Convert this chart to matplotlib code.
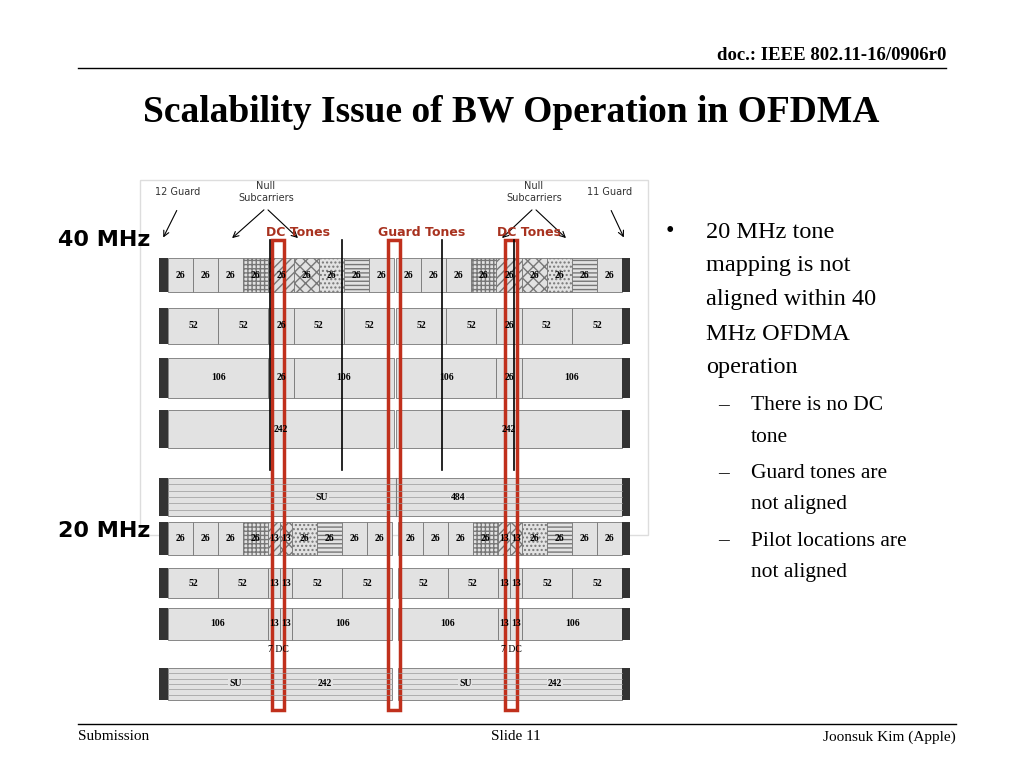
import matplotlib
matplotlib.use("Agg")
import matplotlib.pyplot as plt
from matplotlib.patches import Rectangle

# ---- data ----
header = "doc.: IEEE 802.11-16/0906r0"
title = "Scalability Issue of BW Operation in OFDMA"
rows40 = [
    [("26", 1)] * 9,
    [("52", 2), ("52", 2), ("26", 1), ("52", 2), ("52", 2)],
    [("106", 4), ("26", 1), ("106", 4)],
    [("242", 9)],
]
row40_su = [("484", 18)]
rows20 = [
    [("26", 1)] * 4 + [("13", 0.5), ("13", 0.5)] + [("26", 1)] * 4,
    [("52", 2), ("52", 2), ("13", 0.5), ("13", 0.5), ("52", 2), ("52", 2)],
    [("106", 4), ("13", 0.5), ("13", 0.5), ("106", 4)],
    [("242", 9)],
]
row_y40 = [(258, 292), (308, 344), (358, 398), (410, 448)]
row_y40_su = (478, 516)
row_y20 = [(522, 555), (568, 598), (608, 640), (668, 700)]
red_x = [278, 394, 511]
red_labels = [("DC Tones", 298), ("Guard Tones", 422), ("DC Tones", 529)]
bullets = [("•", 666, 706, 232, "20 MHz tone"), (None, 0, 706, 266, "mapping is not"),
           (None, 0, 706, 300, "aligned within 40"), (None, 0, 706, 334, "MHz OFDMA"),
           (None, 0, 706, 368, "operation")]
subs = [(406, "There is no DC"), (437, "tone"), (474, "Guard tones are"),
        (505, "not aligned"), (541, "Pilot locations are"), (572, "not aligned")]
sub_dash = [406, 474, 541]

fig = plt.figure(figsize=(10.24, 7.68), dpi=100)
ax = fig.add_axes([0, 0, 1, 1])
ax.set_xlim(0, 1024); ax.set_ylim(768, 0); ax.axis("off")
serif = "Liberation Serif"

ax.text(946, 55, header, ha="right", va="center", fontsize=13.5, fontweight="bold", family=serif)
ax.plot([78, 946], [68, 68], color="black", lw=1)
ax.text(511, 112, title, ha="center", va="center", fontsize=27, fontweight="bold", family=serif)

ax.add_patch(Rectangle((140, 180), 508, 355, fill=False, ec="#dddddd", lw=1))
for x, t in [(178, "12 Guard"), (266, "Null\nSubcarriers"), (534, "Null\nSubcarriers"), (610, "11 Guard")]:
    ax.text(x, 192, t, ha="center", va="center", fontsize=7, color="#333333")

hatches = [None, None, None, "++++", "////", "xxx", "....", "----", None]

def stripes(x, wpx, y0, y1):
    for k in range(1, 6):
        yy = y0 + k * (y1 - y0) / 6
        ax.plot([x, x + wpx], [yy, yy], color="#999", lw=0.5)

def draw_half(row, x0, x1, y0, y1, hatched=False, su=False):
    total = sum(w for _, w in row)
    x = x0
    for i, (lab, w) in enumerate(row):
        wpx = (x1 - x0) * w / total
        h = hatches[i % len(hatches)] if hatched else None
        ax.add_patch(Rectangle((x, y0), wpx, y1 - y0, fc="#e2e2e2", ec="#777777", lw=0.6,
                               hatch=h))
        if su:
            stripes(x, wpx, y0, y1)
            ax.text(x + wpx * 0.7, (y0 + y1) / 2, lab, ha="center", va="center", fontsize=7,
                    family=serif, fontweight="bold", bbox=dict(fc="#e2e2e2", ec="none", pad=0.5))
            ax.text(x + wpx * 0.3, (y0 + y1) / 2, "SU", ha="center", va="center", fontsize=7,
                    family=serif, fontweight="bold", bbox=dict(fc="#e2e2e2", ec="none", pad=0.5))
        else:
            ax.text(x + wpx / 2, (y0 + y1) / 2, lab, ha="center", va="center", fontsize=7,
                    family=serif, fontweight="bold")
        x += wpx

def caps(x0, x1, y0, y1):
    ax.add_patch(Rectangle((x0 - 9, y0), 9, y1 - y0, fc="#333", ec="none"))
    ax.add_patch(Rectangle((x1, y0), 8, y1 - y0, fc="#333", ec="none"))

for i, (row, (y0, y1)) in enumerate(zip(rows40, row_y40)):
    draw_half(row, 168, 394, y0, y1, hatched=(i == 0))
    draw_half(row, 396, 622, y0, y1, hatched=(i == 0))
    caps(168, 622, y0, y1)
# 40 MHz SU row
y0, y1 = row_y40_su
ax.add_patch(Rectangle((168, y0), 454, y1 - y0, fc="#e2e2e2", ec="#777777", lw=0.6))
stripes(168, 454, y0, y1)
ax.plot([396, 396], [y0, y1], color="#777", lw=0.8)
ax.text(322, (y0 + y1) / 2, "SU", ha="center", va="center", fontsize=7, family=serif,
        fontweight="bold", bbox=dict(fc="#e2e2e2", ec="none", pad=0.5))
ax.text(458, (y0 + y1) / 2, row40_su[0][0], ha="center", va="center", fontsize=7, family=serif,
        fontweight="bold", bbox=dict(fc="#e2e2e2", ec="none", pad=0.5))
caps(168, 622, y0, y1)
for i, (row, (y0, y1)) in enumerate(zip(rows20, row_y20)):
    for x0, x1 in [(168, 392), (398, 622)]:
        draw_half(row, x0, x1, y0, y1, hatched=(i == 0), su=(i == 3))
    caps(168, 622, y0, y1)
ax.text(278, 652, "7 DC", ha="center", fontsize=7, family=serif)
ax.text(511, 652, "7 DC", ha="center", fontsize=7, family=serif)

for x in [270, 342, 442, 514]:
    ax.plot([x, x], [240, 470], color="black", lw=1.2)
for (xs, xe) in [(178, 162), (266, 230), (266, 300), (534, 500), (534, 568), (610, 625)]:
    ax.annotate("", xy=(xe, 240), xytext=(xs, 208), arrowprops=dict(arrowstyle="->", lw=0.8))

for x in red_x:
    ax.add_patch(Rectangle((x - 6, 240), 12, 470, fill=False, ec="#c0301c", lw=2.5))
for t, x in red_labels:
    ax.text(x, 232, t, ha="center", va="center", fontsize=9, fontweight="bold", color="#a8321f")

ax.text(58, 240, "40 MHz", ha="left", va="center", fontsize=16, fontweight="bold")
ax.text(58, 531, "20 MHz", ha="left", va="center", fontsize=16, fontweight="bold")

for b, bx, x, y, t in bullets:
    if b:
        ax.text(bx, y, b, ha="left", va="center", fontsize=17.5, family=serif)
    ax.text(x, y, t, ha="left", va="center", fontsize=17.5, family=serif)
for y, t in subs:
    ax.text(751, y, t, ha="left", va="center", fontsize=15.5, family=serif)
for y in sub_dash:
    ax.text(718, y, "–", ha="left", va="center", fontsize=15.5, family=serif)

ax.plot([78, 956], [724, 724], color="black", lw=1)
ax.text(78, 737, "Submission", ha="left", va="center", fontsize=11, family=serif)
ax.text(516, 737, "Slide 11", ha="center", va="center", fontsize=11, family=serif)
ax.text(956, 737, "Joonsuk Kim (Apple)", ha="right", va="center", fontsize=11, family=serif)

fig.savefig("out.png", dpi=100)
